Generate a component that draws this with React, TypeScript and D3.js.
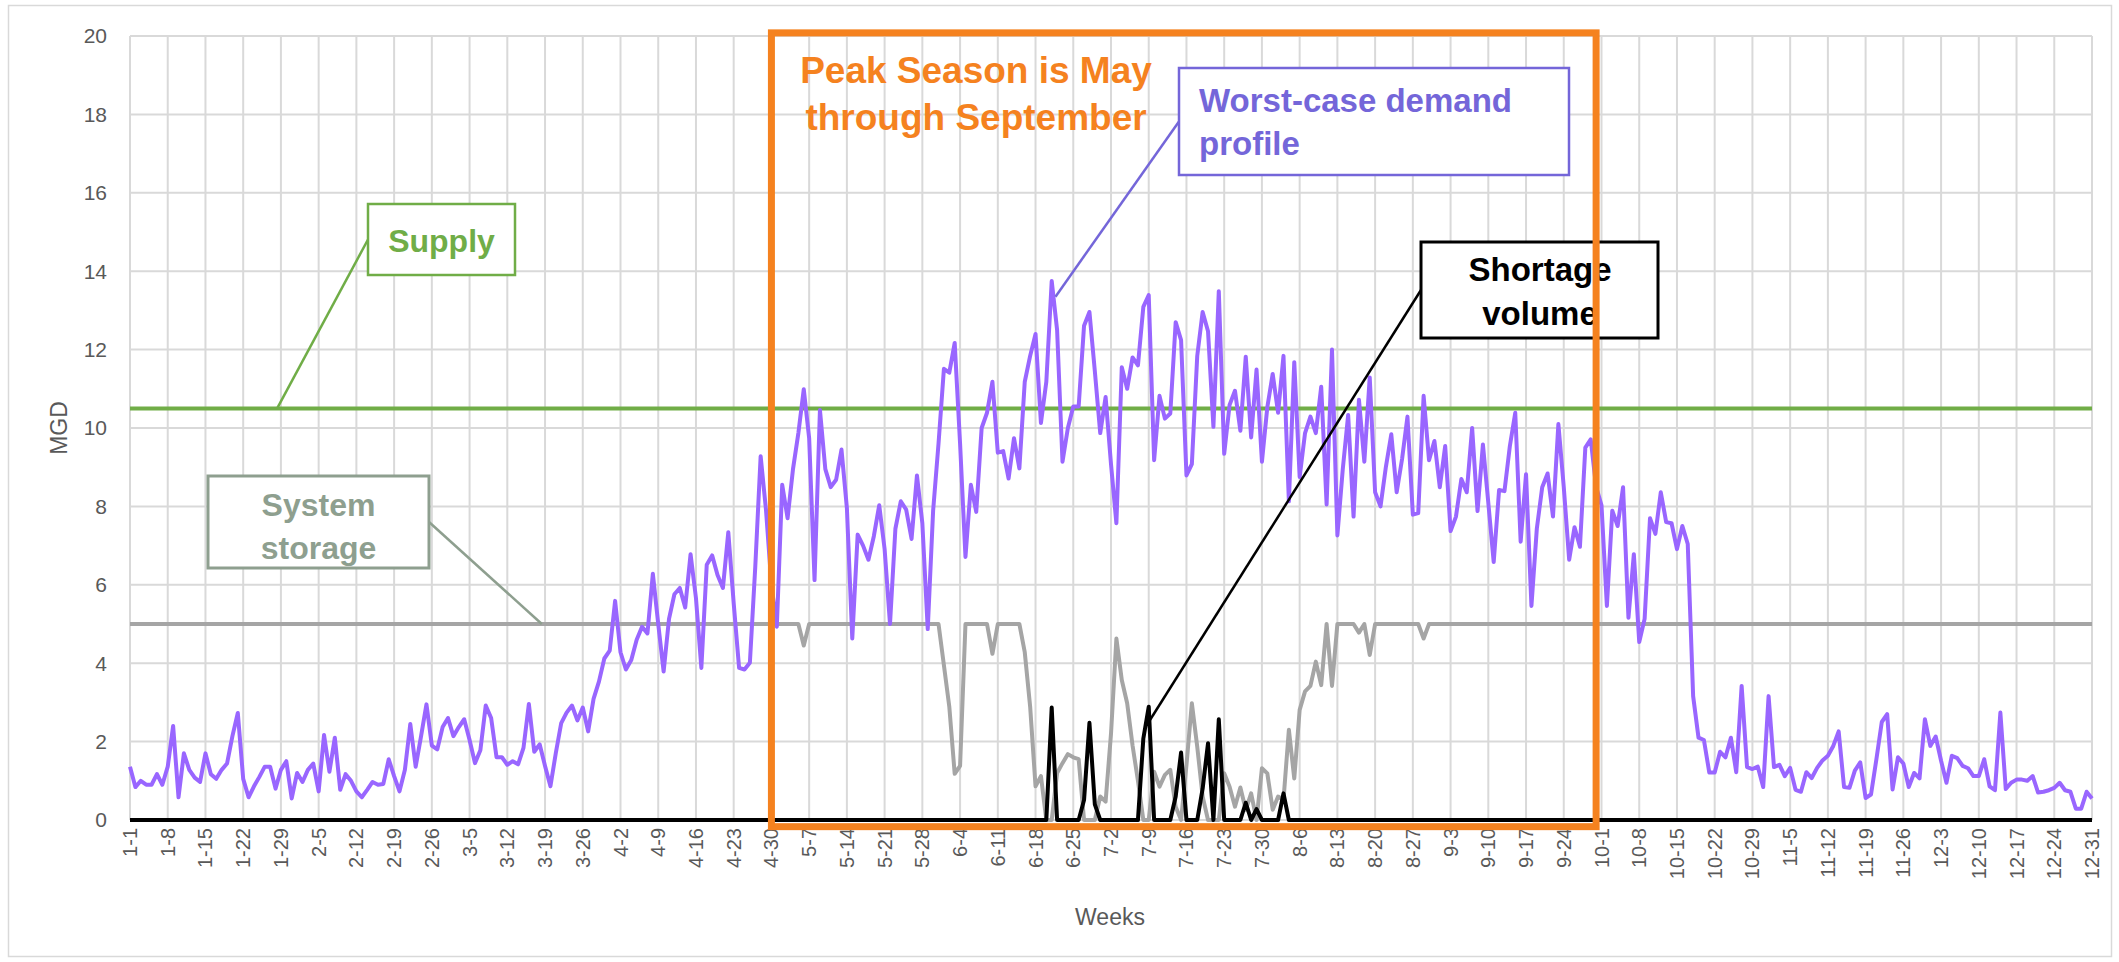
import React from "react";
import * as d3 from "d3";

// ---------- data ----------
const weekLabels = [
  "1-1", "1-8", "1-15", "1-22", "1-29",
  "2-5", "2-12", "2-19", "2-26",
  "3-5", "3-12", "3-19", "3-26",
  "4-2", "4-9", "4-16", "4-23", "4-30",
  "5-7", "5-14", "5-21", "5-28",
  "6-4", "6-11", "6-18", "6-25",
  "7-2", "7-9", "7-16", "7-23", "7-30",
  "8-6", "8-13", "8-20", "8-27",
  "9-3", "9-10", "9-17", "9-24",
  "10-1", "10-8", "10-15", "10-22", "10-29",
  "11-5", "11-12", "11-19", "11-26",
  "12-3", "12-10", "12-17", "12-24", "12-31",
];

const yTicks = [0, 2, 4, 6, 8, 10, 12, 14, 16, 18, 20];

const SUPPLY = 10.5;

// Worst-case demand profile (MGD), one value per day, Jan 1 .. Dec 31
const demand = [
  1.36, 0.84, 1.0, 0.9, 0.9, 1.17, 0.9, 1.36, 2.4, 0.58,
  1.7, 1.28, 1.08, 0.97, 1.7, 1.17, 1.05, 1.28, 1.44, 2.14,
  2.73, 1.05, 0.58, 0.86, 1.1, 1.36, 1.36, 0.8, 1.28, 1.5,
  0.55, 1.2, 0.97, 1.28, 1.44, 0.73, 2.17, 1.23, 2.1, 0.77,
  1.17, 1.0, 0.73, 0.58, 0.77, 0.97, 0.9, 0.92, 1.55, 1.12,
  0.73, 1.28, 2.45, 1.36, 2.14, 2.95, 1.9, 1.8, 2.37, 2.6,
  2.14, 2.37, 2.57, 2.04, 1.45, 1.78, 2.92, 2.6, 1.6, 1.6,
  1.41, 1.5, 1.42, 1.84, 2.96, 1.74, 1.93, 1.38, 0.86, 1.71,
  2.47, 2.74, 2.92, 2.54, 2.87, 2.26, 3.09, 3.53, 4.12, 4.32,
  5.59, 4.28, 3.84, 4.08, 4.6, 4.93, 4.76, 6.28, 5.0, 3.79,
  5.13, 5.76, 5.92, 5.42, 6.78, 5.66, 3.88, 6.51, 6.75, 6.25,
  5.92, 7.34, 5.53, 3.88, 3.84, 4.01, 6.45, 9.28, 7.9, 6.0,
  4.93, 8.55, 7.7, 8.95, 9.87, 10.99, 9.74, 6.12, 10.46, 8.95,
  8.49, 8.68, 9.45, 7.96, 4.63, 7.28, 7.0, 6.64, 7.24, 8.03,
  6.91, 5.0, 7.43, 8.13, 7.92, 7.17, 8.79, 7.57, 4.87, 7.89,
  9.6, 11.51, 11.41, 12.17, 9.6, 6.71, 8.55, 7.86, 10.0, 10.39,
  11.18, 9.37, 9.41, 8.71, 9.74, 8.97, 11.18, 11.84, 12.4, 10.13,
  11.18, 13.75, 12.5, 9.14, 10.0, 10.55, 10.55, 12.61, 12.96, 11.45,
  9.87, 10.79, 9.08, 7.57, 11.55, 11.0, 11.8, 11.6, 13.09, 13.39,
  9.18, 10.82, 10.24, 10.37, 12.7, 12.24, 8.79, 9.08, 11.84, 12.96,
  12.47, 10.03, 13.49, 9.34, 10.59, 10.95, 9.93, 11.82, 9.76, 11.49,
  9.14, 10.53, 11.38, 10.39, 11.84, 8.13, 11.68, 8.75, 9.87, 10.29,
  9.87, 11.05, 8.05, 12.0, 7.26, 8.95, 10.33, 7.74, 10.72, 9.14,
  11.29, 8.36, 8.0, 9.01, 9.84, 8.36, 9.21, 10.29, 7.79, 7.83,
  10.82, 9.18, 9.67, 8.49, 9.54, 7.37, 7.74, 8.7, 8.36, 10.0,
  7.88, 9.58, 8.09, 6.58, 8.42, 8.39, 9.54, 10.39, 7.1, 8.82,
  5.46, 7.43, 8.49, 8.84, 7.74, 10.1, 8.49, 6.64, 7.47, 6.97,
  9.5, 9.71, 8.5, 8.03, 5.46, 7.89, 7.5, 8.49, 5.16, 6.78,
  4.54, 5.13, 7.7, 7.3, 8.36, 7.6, 7.57, 6.91, 7.5, 7.04,
  3.16, 2.1, 2.04, 1.21, 1.21, 1.74, 1.6, 2.1, 1.22, 3.42,
  1.35, 1.3, 1.36, 0.84, 3.16, 1.35, 1.41, 1.12, 1.33, 0.77,
  0.72, 1.22, 1.07, 1.33, 1.52, 1.64, 1.89, 2.26, 0.84, 0.82,
  1.26, 1.47, 0.56, 0.65, 1.55, 2.5, 2.7, 0.78, 1.6, 1.44,
  0.84, 1.2, 1.06, 2.57, 1.89, 2.13, 1.51, 0.95, 1.64, 1.58,
  1.38, 1.32, 1.12, 1.12, 1.55, 0.86, 0.76, 2.74, 0.79, 0.95,
  1.03, 1.03, 1.0, 1.12, 0.7, 0.72, 0.76, 0.82, 0.95, 0.76,
  0.72, 0.29, 0.29, 0.72, 0.55,
];

// System storage (MGD)
const storage = [
  5, 5, 5, 5, 5, 5, 5, 5, 5, 5,
  5, 5, 5, 5, 5, 5, 5, 5, 5, 5,
  5, 5, 5, 5, 5, 5, 5, 5, 5, 5,
  5, 5, 5, 5, 5, 5, 5, 5, 5, 5,
  5, 5, 5, 5, 5, 5, 5, 5, 5, 5,
  5, 5, 5, 5, 5, 5, 5, 5, 5, 5,
  5, 5, 5, 5, 5, 5, 5, 5, 5, 5,
  5, 5, 5, 5, 5, 5, 5, 5, 5, 5,
  5, 5, 5, 5, 5, 5, 5, 5, 5, 5,
  5, 5, 5, 5, 5, 5, 5, 5, 5, 5,
  5, 5, 5, 5, 5, 5, 5, 5, 5, 5,
  5, 5, 5, 5, 5, 5, 5, 5, 5, 5,
  5, 5, 5, 5, 5, 4.45, 5, 5, 5, 5,
  5, 5, 5, 5, 5, 5, 5, 5, 5, 5,
  5, 5, 5, 5, 5, 5, 5, 5, 5, 5,
  5, 3.95, 2.89, 1.18, 1.38, 5, 5, 5, 5, 5,
  4.24, 5, 5, 5, 5, 5, 4.28, 2.89, 0.86, 1.12,
  0, 0, 1.2, 1.45, 1.68, 1.6, 1.55, 0, 0, 0,
  0.6, 0.47, 2.2, 4.63, 3.57, 2.98, 1.9, 1.0, 0, 0,
  1.23, 0.85, 1.15, 1.28, 0.34, 0, 1.4, 2.98, 1.87, 0.6,
  0, 0, 0, 1.19, 0.85, 0.34, 0.83, 0.26, 0.68, 0,
  1.32, 1.19, 0.26, 0.6, 0.51, 2.3, 1.06, 2.81, 3.28, 3.42,
  4.04, 3.44, 5, 3.42, 5, 5, 5, 5, 4.78, 5,
  4.21, 5, 5, 5, 5, 5, 5, 5, 5, 5,
  4.63, 5, 5, 5, 5, 5, 5, 5, 5, 5,
  5, 5, 5, 5, 5, 5, 5, 5, 5, 5,
  5, 5, 5, 5, 5, 5, 5, 5, 5, 5,
  5, 5, 5, 5, 5, 5, 5, 5, 5, 5,
  5, 5, 5, 5, 5, 5, 5, 5, 5, 5,
  5, 5, 5, 5, 5, 5, 5, 5, 5, 5,
  5, 5, 5, 5, 5, 5, 5, 5, 5, 5,
  5, 5, 5, 5, 5, 5, 5, 5, 5, 5,
  5, 5, 5, 5, 5, 5, 5, 5, 5, 5,
  5, 5, 5, 5, 5, 5, 5, 5, 5, 5,
  5, 5, 5, 5, 5, 5, 5, 5, 5, 5,
  5, 5, 5, 5, 5, 5, 5, 5, 5, 5,
  5, 5, 5, 5, 5,
];

// Shortage volume (MGD)
const shortage = [
  0, 0, 0, 0, 0, 0, 0, 0, 0, 0,
  0, 0, 0, 0, 0, 0, 0, 0, 0, 0,
  0, 0, 0, 0, 0, 0, 0, 0, 0, 0,
  0, 0, 0, 0, 0, 0, 0, 0, 0, 0,
  0, 0, 0, 0, 0, 0, 0, 0, 0, 0,
  0, 0, 0, 0, 0, 0, 0, 0, 0, 0,
  0, 0, 0, 0, 0, 0, 0, 0, 0, 0,
  0, 0, 0, 0, 0, 0, 0, 0, 0, 0,
  0, 0, 0, 0, 0, 0, 0, 0, 0, 0,
  0, 0, 0, 0, 0, 0, 0, 0, 0, 0,
  0, 0, 0, 0, 0, 0, 0, 0, 0, 0,
  0, 0, 0, 0, 0, 0, 0, 0, 0, 0,
  0, 0, 0, 0, 0, 0, 0, 0, 0, 0,
  0, 0, 0, 0, 0, 0, 0, 0, 0, 0,
  0, 0, 0, 0, 0, 0, 0, 0, 0, 0,
  0, 0, 0, 0, 0, 0, 0, 0, 0, 0,
  0, 0, 0, 0, 0, 0, 0, 0, 0, 0,
  0, 2.87, 0, 0, 0, 0, 0, 0.51, 2.48, 0.4,
  0, 0, 0, 0, 0, 0, 0, 0, 2.08, 2.89,
  0, 0, 0, 0, 0.6, 1.72, 0, 0, 0, 0.8,
  1.96, 0, 2.57, 0, 0, 0, 0, 0.44, 0, 0.28,
  0, 0, 0, 0, 0.68, 0, 0, 0, 0, 0,
  0, 0, 0, 0, 0, 0, 0, 0, 0, 0,
  0, 0, 0, 0, 0, 0, 0, 0, 0, 0,
  0, 0, 0, 0, 0, 0, 0, 0, 0, 0,
  0, 0, 0, 0, 0, 0, 0, 0, 0, 0,
  0, 0, 0, 0, 0, 0, 0, 0, 0, 0,
  0, 0, 0, 0, 0, 0, 0, 0, 0, 0,
  0, 0, 0, 0, 0, 0, 0, 0, 0, 0,
  0, 0, 0, 0, 0, 0, 0, 0, 0, 0,
  0, 0, 0, 0, 0, 0, 0, 0, 0, 0,
  0, 0, 0, 0, 0, 0, 0, 0, 0, 0,
  0, 0, 0, 0, 0, 0, 0, 0, 0, 0,
  0, 0, 0, 0, 0, 0, 0, 0, 0, 0,
  0, 0, 0, 0, 0, 0, 0, 0, 0, 0,
  0, 0, 0, 0, 0, 0, 0, 0, 0, 0,
  0, 0, 0, 0, 0,
];

// Peak season window (day index of Apr 30 .. Sep 30)
const PEAK_START = 119;
const PEAK_END = 272;

// ---------- layout ----------
const W = 2119;
const H = 962;
const FONT = "'Liberation Sans', Arial, sans-serif";
const C = {
  grid: "#D9D9D9",
  axisText: "#595959",
  demand: "#9966FF",
  supply: "#70AD47",
  storage: "#A5A5A5",
  storageNote: "#8E9F8F",
  shortage: "#000000",
  peak: "#F5821F",
  demandNote: "#7466D9",
};

export default function App() {
  const x = d3.scaleLinear().domain([0, demand.length - 1]).range([130, 2092]);
  const y = d3.scaleLinear().domain([0, 20]).range([820, 36]);
  const line = d3
    .line<number>()
    .x((_, i) => x(i))
    .y((d) => y(d));

  const weekIdx = weekLabels.map((_, k) => k * 7);

  return (
    <svg
      width={W}
      height={H}
      viewBox={`0 0 ${W} ${H}`}
      style={{ position: "absolute", left: 0, top: 0, background: "#fff" }}
      fontFamily={FONT}
    >
      <rect x={0} y={0} width={W} height={H} fill="#fff" />
      <rect x={8.5} y={5.5} width={2103} height={951} fill="none" stroke={C.grid} strokeWidth={1.5} />

      {/* gridlines */}
      {yTicks.map((t) => (
        <line key={"gy" + t} x1={x(0)} x2={x(364)} y1={y(t)} y2={y(t)} stroke={C.grid} strokeWidth={2} />
      ))}
      {weekIdx.map((i) => (
        <line key={"gx" + i} x1={x(i)} x2={x(i)} y1={y(0)} y2={y(20)} stroke={C.grid} strokeWidth={2} />
      ))}

      {/* y tick labels */}
      {yTicks.map((t) => (
        <text key={"ty" + t} x={107} y={y(t)} dy="0.35em" textAnchor="end" fontSize={21} fill={C.axisText}>
          {t}
        </text>
      ))}
      {/* x tick labels */}
      {weekLabels.map((lab, k) => (
        <text
          key={"tx" + k}
          transform={`translate(${x(weekIdx[k])},828) rotate(-90)`}
          dy="0.35em"
          textAnchor="end"
          fontSize={20}
          fill={C.axisText}
        >
          {lab}
        </text>
      ))}

      {/* axis titles */}
      <text transform="translate(59,428) rotate(-90)" dy="0.35em" textAnchor="middle" fontSize={23} fill={C.axisText}>
        MGD
      </text>
      <text x={1110} y={925} textAnchor="middle" fontSize={23} fill={C.axisText}>
        Weeks
      </text>

      {/* series */}
      <path d={line(storage) || ""} fill="none" stroke={C.storage} strokeWidth={4} strokeLinejoin="round" />
      <line x1={x(0)} x2={x(364)} y1={y(SUPPLY)} y2={y(SUPPLY)} stroke={C.supply} strokeWidth={4} />
      <path d={line(demand) || ""} fill="none" stroke={C.demand} strokeWidth={4} strokeLinejoin="round" />
      <path d={line(shortage) || ""} fill="none" stroke={C.shortage} strokeWidth={4} strokeLinejoin="round" />

      {/* Supply callout */}
      <line x1={368} y1={239.5} x2={x(27.3)} y2={y(SUPPLY)} stroke={C.supply} strokeWidth={2.5} />
      <rect x={368} y={204} width={147} height={71} fill="#fff" stroke={C.supply} strokeWidth={2.5} />
      <text x={441.5} y={252} textAnchor="middle" fontSize={32} fontWeight="bold" fill={C.supply}>
        Supply
      </text>

      {/* System storage callout */}
      <line x1={429} y1={522} x2={x(76.4)} y2={y(5)} stroke={C.storageNote} strokeWidth={2.5} />
      <rect x={208} y={476} width={221} height={92} fill="#fff" stroke={C.storageNote} strokeWidth={3} />
      <text x={318.5} y={516} textAnchor="middle" fontSize={32} fontWeight="bold" fill={C.storageNote}>
        System
      </text>
      <text x={318.5} y={559} textAnchor="middle" fontSize={32} fontWeight="bold" fill={C.storageNote}>
        storage
      </text>

      {/* Worst-case demand callout */}
      <line x1={1179} y1={121.5} x2={x(171.7)} y2={y(13.35)} stroke={C.demandNote} strokeWidth={2.5} />
      <rect x={1179} y={68} width={390} height={107} fill="#fff" stroke={C.demandNote} strokeWidth={2.5} />
      <text x={1199} y={112} fontSize={33} fontWeight="bold" fill={C.demandNote}>
        Worst-case demand
      </text>
      <text x={1199} y={155} fontSize={33} fontWeight="bold" fill={C.demandNote}>
        profile
      </text>

      {/* Shortage callout */}
      <line x1={1421} y1={290} x2={x(189)} y2={y(2.5)} stroke="#000" strokeWidth={2.5} />
      <rect x={1421} y={242} width={237} height={96} fill="#fff" stroke="#000" strokeWidth={3} />
      <text x={1540} y={281} textAnchor="middle" fontSize={33} fontWeight="bold" fill="#000">
        Shortage
      </text>
      <text x={1540} y={325} textAnchor="middle" fontSize={33} fontWeight="bold" fill="#000">
        volume
      </text>

      {/* Peak season box */}
      <rect
        x={x(PEAK_START)}
        y={y(20.08)}
        width={x(PEAK_END) - x(PEAK_START)}
        height={y(-0.17) - y(20.08)}
        fill="none"
        stroke={C.peak}
        strokeWidth={7}
      />
      <text x={976} y={83} textAnchor="middle" fontSize={37} fontWeight="bold" fill={C.peak}>
        Peak Season is May
      </text>
      <text x={976} y={130} textAnchor="middle" fontSize={37} fontWeight="bold" fill={C.peak}>
        through September
      </text>
    </svg>
  );
}
